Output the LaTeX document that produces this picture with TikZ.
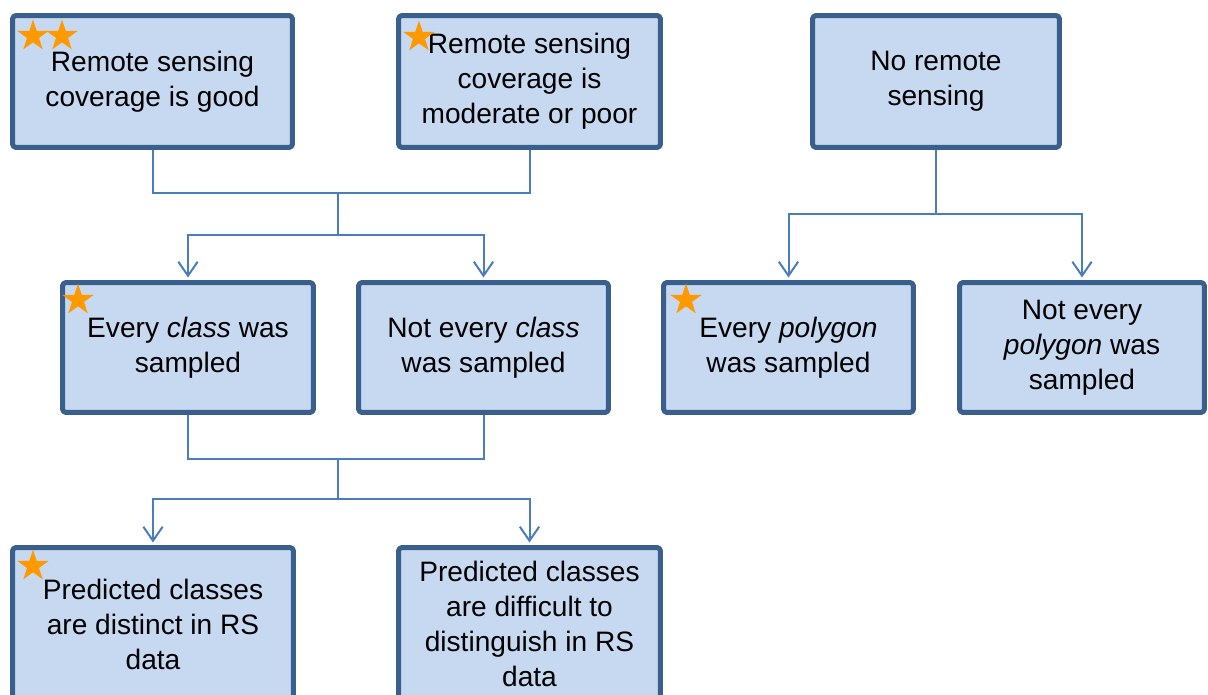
\documentclass[tikz,border=0pt]{standalone}
\usepackage{fontspec}
\setmainfont{Liberation Sans}
\usetikzlibrary{arrows.meta,shapes.geometric,backgrounds}
\definecolor{boxfill}{HTML}{C6D9F1}
\definecolor{boxline}{HTML}{3A5F8C}
\definecolor{linkcol}{HTML}{4A7EBB}
\definecolor{starcol}{HTML}{FF9900}
\begin{document}
\begin{tikzpicture}[x=0.02cm,y=-0.02cm,line join=round,
	box/.style={draw=boxline,fill=boxfill,line width=0.1cm,rounded corners=2pt,align=center,inner sep=0pt,
		minimum height=2.6cm,font=\fontsize{16pt}{19.9pt}\selectfont},
	link/.style={draw=linkcol,line width=0.04cm},
	arr/.style={link,shorten >=0.05cm,-{Straight Barb[length=8pt,width=11pt]}},
	rating/.style={star,star points=5,star point ratio=2.6,fill=starcol,inner sep=0pt,minimum size=0.66cm}]
	\useasboundingbox (0,0) rectangle (1208,695);
	%%Boxes
	\node[box,minimum width=5.6cm,minimum height=2.64cm] (A) at (152.5,81.5) {Remote sensing\\coverage is good};
	\node[box,minimum width=5.24cm,minimum height=2.64cm] (B) at (529.5,81.5) {Remote sensing\\coverage is\\moderate or poor};
	\node[box,minimum width=4.94cm,minimum height=2.64cm] (C) at (936,81.5) {No remote\\sensing};
	\node[box,minimum width=5.02cm] (D) at (188,347.5) {Every \textit{class} was\\sampled};
	\node[box,minimum width=5cm] (E) at (483.5,347.5) {Not every \textit{class}\\was sampled};
	\node[box,minimum width=5cm] (F) at (788.5,347.5) {Every \textit{polygon}\\was sampled};
	\node[box,minimum width=4.9cm] (G) at (1082,347.5) {Not every\\\textit{polygon} was\\sampled};
	\node[box,minimum width=5.62cm,minimum height=3.06cm] (H) at (153,624) {Predicted classes\\are distinct in RS\\data};
	\node[box,minimum width=5.24cm,minimum height=3.06cm] (I) at (529.5,624) {Predicted classes\\are difficult to\\distinguish in RS\\data};
	%%Joints
	\path (338,193)coordinate(m1) (338,235)coordinate(m2)
		(338,459)coordinate(m3) (338,499)coordinate(m4)
		(936,214)coordinate(m5);
	%%Links
	\begin{scope}[on background layer]
		\draw[link] (A.south) |- (m1) -| (B.south) (m1)--(m2);
		\draw[arr] (m2) -| (D.north);
		\draw[arr] (m2) -| (E.north);
		\draw[link] (C.south)--(m5);
		\draw[arr] (m5) -| (F.north);
		\draw[arr] (m5) -| (G.north);
		\draw[link] (D.south) |- (m3) -| (E.south) (m3)--(m4);
		\draw[arr] (m4) -| (H.north);
		\draw[arr] (m4) -| (I.north);
	\end{scope}
	%%Stars
	\foreach \p [count=\i] in {(33,36),(62,36),(419,37),(78,300),(686,300),(33,566)}{
		\node[rating] (s\i) at \p {};
	}
\end{tikzpicture}
\end{document}
